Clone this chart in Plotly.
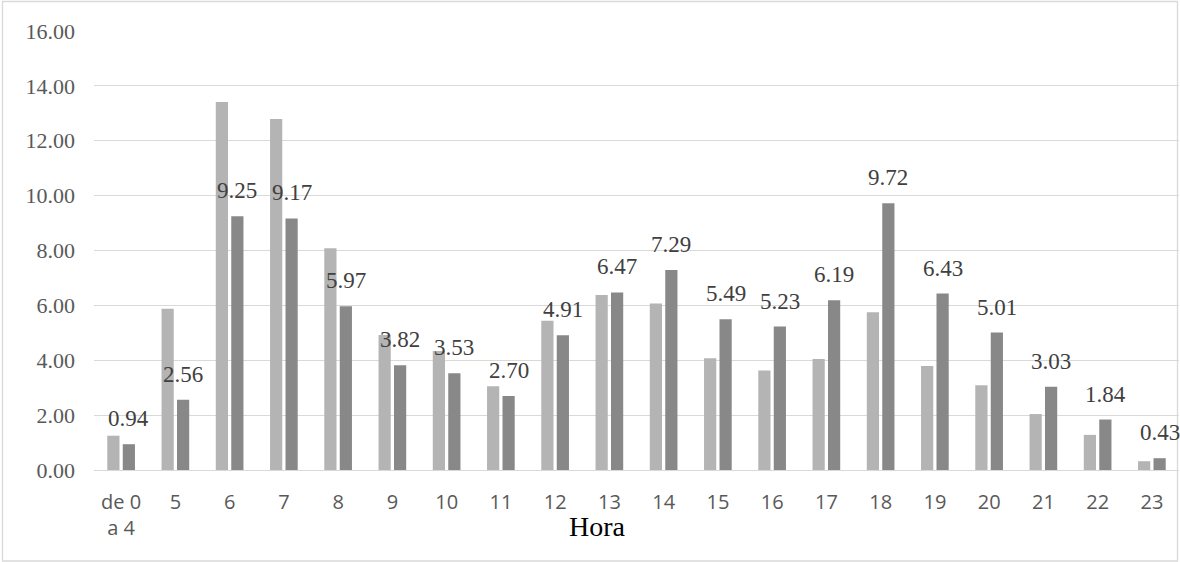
import plotly.graph_objects as go

# Hour categories (first one groups midnight to 4 a.m.)
horas = ["de 0<br>a 4", "5", "6", "7", "8", "9", "10", "11", "12", "13",
         "14", "15", "16", "17", "18", "19", "20", "21", "22", "23"]

# Light series (unlabelled bars)
serie_clara = [1.25, 5.88, 13.41, 12.79, 8.08, 4.92, 4.34, 3.05, 5.44, 6.38,
               6.07, 4.07, 3.63, 4.05, 5.75, 3.79, 3.09, 2.04, 1.28, 0.32]

# Dark series (labelled bars)
serie_oscura = [0.94, 2.56, 9.25, 9.17, 5.97, 3.82, 3.53, 2.70, 4.91, 6.47,
                7.29, 5.49, 5.23, 6.19, 9.72, 6.43, 5.01, 3.03, 1.84, 0.43]

y_ticks = [0, 2, 4, 6, 8, 10, 12, 14, 16]

SERIF = "Liberation Serif, Times New Roman, serif"

fig = go.Figure()
fig.add_trace(go.Bar(x=horas, y=serie_clara, name="Serie 1",
                     marker=dict(color="#b4b4b4", line=dict(width=0))))
fig.add_trace(go.Bar(x=horas, y=serie_oscura, name="Serie 2",
                     marker=dict(color="#888888", line=dict(width=0))))

# Value labels above the dark bars (x given as category index)
for i, v in enumerate(serie_oscura):
    fig.add_annotation(x=i, y=v, text=f"{v:.2f}", showarrow=False,
                       xanchor="center", yanchor="bottom",
                       xshift=7.7, yshift=11,
                       font=dict(family=SERIF, size=23, color="#404040"))

# Axis title placed under the tick labels
fig.add_annotation(text="Hora", xref="paper", yref="paper",
                   x=(597 - 94) / 1085, y=(470 - 532) / 439,
                   xanchor="center", yanchor="bottom", yshift=-12, showarrow=False,
                   font=dict(family=SERIF, size=28, color="#000000"))

# Outer chart frame
fig.add_shape(type="rect", xref="paper", yref="paper",
              x0=(2.5 - 94) / 1085, x1=(1177.5 - 94) / 1085,
              y0=(470 - 561) / 439, y1=(470 - 1.5) / 439,
              line=dict(color="#d9d9d9", width=1.3), fillcolor="rgba(0,0,0,0)",
              layer="below")

fig.update_layout(
    width=1180, height=562,
    margin=dict(l=94, r=1, t=31, b=92),
    paper_bgcolor="white", plot_bgcolor="white",
    barmode="group", bargap=0.43, bargroupgap=0.21,
    showlegend=False,
)
fig.update_xaxes(
    type="category", range=[-0.5, len(horas) - 0.5],
    showgrid=False, showline=False, ticks="",
    tickfont=dict(family="Open Sans", size=20, color="#595959"),
    ticklabelstandoff=18,
)
fig.update_yaxes(
    range=[0, 16], tickvals=y_ticks, tickformat=".2f",
    showgrid=True, gridcolor="#d9d9d9", gridwidth=1.3,
    zeroline=True, zerolinecolor="#d9d9d9", zerolinewidth=1.3,
    showline=False, ticks="",
    tickfont=dict(family=SERIF, size=22, color="#595959"),
    ticklabelstandoff=18,
)

fig.write_html("out.html")
